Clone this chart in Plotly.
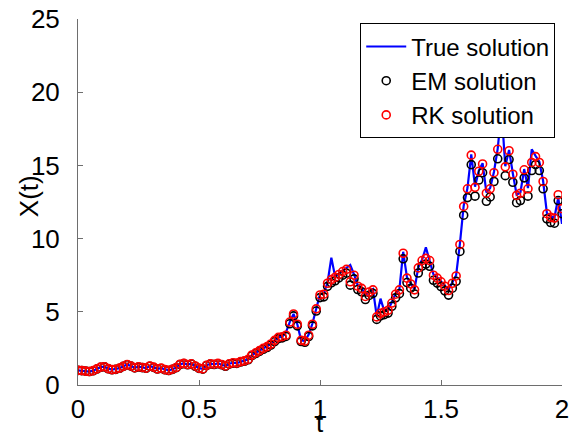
import plotly.graph_objects as go

# Time grid shared by the numerical schemes: step 2/128 on [0, 2]
n_steps = 128
t_end = 2.0
t = [k * t_end / n_steps for k in range(n_steps + 1)]

# Reference (true) path sampled on the same grid
x_true = [
    1.00, 0.98, 0.95, 0.92, 0.98, 1.10, 1.22, 1.25, 1.12, 1.05,
    1.08, 1.15, 1.28, 1.40, 1.30, 1.18, 1.25, 1.20, 1.15, 1.30,
    1.22, 1.10, 1.15, 1.05, 1.00, 1.08, 1.20, 1.42, 1.48, 1.40,
    1.45, 1.30, 1.15, 1.10, 1.35, 1.45, 1.42, 1.48, 1.40, 1.30,
    1.45, 1.52, 1.50, 1.60, 1.65, 1.75, 2.05, 2.20, 2.35, 2.50,
    2.62, 2.80, 3.05, 3.25, 3.30, 3.60, 4.30, 4.85, 4.15, 3.05,
    3.00, 3.45, 4.20, 5.25, 6.20, 6.25, 7.00, 8.70, 7.40, 7.60,
    7.80, 7.95, 8.20, 7.55, 6.80, 6.65, 6.10, 6.40, 6.55, 4.70,
    5.90, 5.05, 5.15, 5.65, 6.25, 6.55, 9.10, 7.35, 6.95, 6.55,
    8.05, 8.55, 9.40, 8.55, 7.55, 7.35, 7.10, 6.80, 6.50, 7.00,
    7.50, 9.65, 12.25, 13.45, 15.75, 13.55, 14.65, 15.15, 13.15, 13.45,
    14.55, 16.15, 18.80, 14.95, 16.05, 14.45, 13.00, 13.15, 14.75, 13.45,
    16.10, 15.65, 15.25, 13.95, 11.75, 11.50, 11.45, 12.80, 11.00,
]

# Euler-Maruyama approximation
x_em = [
    1.00, 0.98, 0.95, 0.92, 0.97, 1.09, 1.21, 1.24, 1.11, 1.04,
    1.07, 1.14, 1.27, 1.38, 1.29, 1.17, 1.23, 1.19, 1.14, 1.28,
    1.20, 1.09, 1.13, 1.04, 0.99, 1.07, 1.18, 1.40, 1.46, 1.38,
    1.43, 1.28, 1.13, 1.08, 1.33, 1.43, 1.40, 1.45, 1.38, 1.28,
    1.42, 1.49, 1.47, 1.57, 1.62, 1.72, 2.00, 2.15, 2.30, 2.44,
    2.56, 2.73, 2.97, 3.17, 3.22, 3.32, 4.18, 4.72, 4.04, 2.97,
    2.92, 3.31, 4.04, 5.05, 5.97, 6.02, 6.74, 6.98, 7.12, 7.32,
    7.50, 7.64, 6.82, 7.25, 6.52, 6.37, 5.84, 6.12, 6.26, 4.48,
    4.72, 4.81, 4.91, 5.38, 5.96, 6.24, 8.62, 7.00, 6.61, 6.22,
    7.65, 8.12, 8.26, 8.11, 7.15, 6.96, 6.72, 6.43, 6.14, 6.61,
    7.08, 9.12, 11.60, 12.80, 15.05, 12.90, 14.00, 14.50, 12.55, 12.85,
    13.90, 15.45, 17.60, 14.30, 15.40, 13.85, 12.45, 12.60, 14.15, 12.90,
    14.65, 15.05, 14.65, 13.40, 11.35, 11.10, 11.05, 12.60, 11.70,
]

# Runge-Kutta approximation
x_rk = [
    1.00, 0.98, 0.95, 0.92, 0.98, 1.10, 1.22, 1.25, 1.12, 1.05,
    1.08, 1.15, 1.28, 1.40, 1.30, 1.18, 1.25, 1.20, 1.15, 1.30,
    1.22, 1.10, 1.15, 1.05, 1.00, 1.08, 1.20, 1.42, 1.48, 1.40,
    1.45, 1.30, 1.15, 1.10, 1.35, 1.45, 1.42, 1.48, 1.40, 1.30,
    1.45, 1.52, 1.50, 1.60, 1.65, 1.75, 2.05, 2.20, 2.35, 2.50,
    2.62, 2.80, 3.05, 3.25, 3.30, 3.40, 4.30, 4.85, 4.15, 3.05,
    3.00, 3.40, 4.15, 5.20, 6.15, 6.20, 6.95, 7.20, 7.35, 7.55,
    7.75, 7.90, 7.05, 7.50, 6.75, 6.60, 6.05, 6.35, 6.50, 4.65,
    4.90, 5.00, 5.10, 5.60, 6.20, 6.50, 9.00, 7.30, 6.90, 6.50,
    8.00, 8.50, 8.65, 8.50, 7.50, 7.30, 7.05, 6.75, 6.45, 6.95,
    7.45, 9.60, 12.20, 13.40, 15.70, 13.50, 14.60, 15.10, 13.10, 13.40,
    14.50, 16.10, 18.30, 14.90, 16.00, 14.40, 12.95, 13.10, 14.70, 13.40,
    15.20, 15.60, 15.20, 13.90, 11.70, 11.45, 11.40, 13.00, 12.05,
]

x_ticks = [0, 0.5, 1, 1.5, 2]
y_ticks = [0, 5, 10, 15, 20, 25]

font_family = "Liberation Sans, Arial, Helvetica, sans-serif"
axis_gray = "#6e6e6e"

fig = go.Figure()
fig.add_trace(go.Scatter(
    x=t, y=x_true, mode="lines", name="True solution",
    line=dict(color="#0000ff", width=2.2),
))
fig.add_trace(go.Scatter(
    x=t, y=x_em, mode="markers", name="EM solution",
    marker=dict(symbol="circle-open", size=8, color="#000000",
                line=dict(width=1.6, color="#000000")),
))
fig.add_trace(go.Scatter(
    x=t, y=x_rk, mode="markers", name="RK solution",
    marker=dict(symbol="circle-open", size=8, color="#ff0000",
                line=dict(width=1.6, color="#ff0000")),
))

fig.update_layout(
    width=569, height=440,
    margin=dict(l=77.5, r=7.3, t=18.5, b=55, autoexpand=False),
    paper_bgcolor="white", plot_bgcolor="white",
    font=dict(family=font_family, size=26, color="black"),
    showlegend=True,
    legend=dict(
        x=0.986, y=0.988, xanchor="right", yanchor="top",
        bgcolor="white", bordercolor="black", borderwidth=1,
        font=dict(size=24, color="black"),
        tracegroupgap=0, itemwidth=40,
    ),
    xaxis=dict(
        range=[0, 2], tickvals=x_ticks, ticktext=[str(v) for v in x_ticks],
        showline=True, linecolor=axis_gray, linewidth=1,
        ticks="inside", ticklen=5, tickcolor=axis_gray,
        showgrid=False, zeroline=False, mirror=False,
        automargin=False, ticklabeloverflow="allow",
        ticklabelstandoff=1,
        tickfont=dict(size=26),
    ),
    yaxis=dict(
        range=[0, 25], tickvals=y_ticks,
        showline=True, linecolor=axis_gray, linewidth=1,
        ticks="inside", ticklen=5, tickcolor=axis_gray,
        showgrid=False, zeroline=False, mirror=False,
        automargin=False, ticklabeloverflow="allow",
        ticklabelstandoff=12,
        tickfont=dict(size=26),
    ),
    annotations=[
        dict(
            text="X(t)", textangle=-90, showarrow=False,
            xref="paper", yref="paper", x=-0.102, y=0.515,
            xanchor="center", yanchor="middle",
            font=dict(size=26, color="black"),
        ),
        dict(
            text="t", showarrow=False,
            xref="paper", yref="paper", x=0.5, y=-0.1498,
            xanchor="center", yanchor="bottom",
            font=dict(size=26, color="black"),
        ),
    ],
)

fig.write_html("out.html")
